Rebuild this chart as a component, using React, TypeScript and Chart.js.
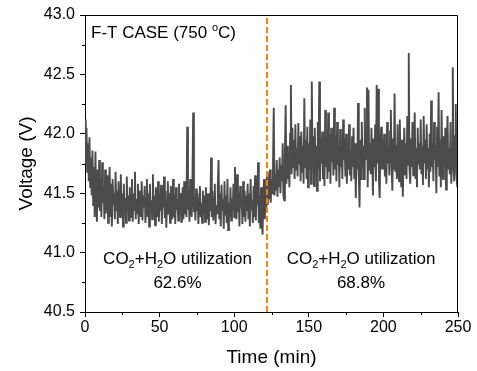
import React, { useEffect, useRef } from "react";
import { Chart, registerables } from "chart.js";

Chart.register(...registerables);

// ---- data ----
const X_MIN = 0;
const X_MAX = 250;
const Y_MIN = 40.5;
const Y_MAX = 43.0;
const X_TICKS = [0, 50, 100, 150, 200, 250];
const X_MINOR_TICKS = [25, 75, 125, 175, 225];
const Y_TICKS = [40.5, 41.0, 41.5, 42.0, 42.5, 43.0];
const Y_MINOR_TICKS = [40.75, 41.25, 41.75, 42.25, 42.75];
const TIME_STEP_MIN = 0.5;
const SWITCH_TIME_MIN = 122;

// Voltage (V), one reading every 0.5 min from t = 0 to 250 min (10 readings per row = 5 min)
const voltage = [
  42.12, 41.75, 42.05, 41.68, 41.92, 41.60, 41.97, 41.55, 41.80, 41.48,
  41.86, 41.40, 41.72, 41.30, 41.85, 41.45, 41.26, 41.70, 41.38, 41.78,
  41.35, 41.62, 41.30, 41.76, 41.42, 41.55, 41.28, 41.70, 41.33, 41.52,
  41.65, 41.25, 41.48, 41.72, 41.30, 41.58, 41.22, 41.62, 41.40, 41.50,
  41.28, 41.68, 41.35, 41.52, 41.24, 41.60, 41.45, 41.30, 41.66, 41.32,
  41.50, 41.22, 41.58, 41.38, 41.46, 41.25, 41.64, 41.35, 41.48, 41.27,
  41.55, 41.40, 41.30, 41.62, 41.26, 41.50, 41.36, 41.68, 41.28, 41.45,
  41.33, 41.58, 41.24, 41.52, 41.42, 41.30, 41.60, 41.27, 41.48, 41.38,
  41.56, 41.25, 41.45, 41.62, 41.30, 41.50, 41.22, 41.58, 41.36, 41.44,
  41.28, 41.66, 41.34, 41.48, 41.23, 41.55, 41.40, 41.30, 41.60, 41.26,
  41.50, 41.35, 41.57, 41.24, 41.46, 41.38, 41.64, 41.29, 41.52, 41.21,
  41.44, 41.60, 41.32, 41.50, 41.25, 41.56, 41.37, 41.28, 41.62, 41.30,
  41.48, 41.24, 41.55, 41.36, 41.45, 41.27, 41.58, 41.33, 41.50, 41.26,
  41.42, 41.55, 41.28, 41.60, 41.32, 41.48, 41.30, 42.06, 41.36, 41.52,
  41.26, 41.62, 41.38, 41.30, 41.58, 42.18, 41.34, 41.47, 41.27, 41.54,
  41.35, 41.50, 41.24, 41.45, 41.56, 41.30, 41.42, 41.25, 41.52, 41.33,
  41.48, 41.26, 41.55, 41.36, 41.28, 41.50, 41.23, 41.44, 41.35, 41.80,
  41.30, 41.52, 41.27, 41.46, 41.58, 41.24, 41.40, 41.33, 41.55, 41.78,
  41.28, 41.50, 41.22, 41.57, 41.35, 41.45, 41.20, 41.60, 41.32, 41.48,
  41.25, 41.62, 41.19, 41.42, 41.30, 41.55, 41.27, 41.46, 41.36, 41.58,
  41.30, 41.72, 41.40, 41.28, 41.66, 41.34, 41.50, 41.22, 41.56, 41.38,
  41.45, 41.24, 41.60, 41.30, 41.52, 41.26, 41.48, 41.35, 41.58, 41.28,
  41.50, 41.22, 41.62, 41.36, 41.44, 41.25, 41.56, 41.30, 41.65, 41.27,
  41.52, 41.40, 41.76, 41.25, 41.48, 41.20, 41.55, 41.30, 41.15, 41.45,
  41.62, 41.28, 41.52, 41.36, 41.68, 41.40, 41.55, 41.45, 41.70, 41.42,
  41.62, 41.50, 41.72, 42.22, 41.48, 41.66, 41.52, 41.78, 41.47, 41.70,
  41.55, 41.80, 41.50, 41.74, 41.60, 41.92, 41.48, 41.44, 41.85, 42.24,
  41.58, 41.90, 41.62, 41.82, 41.55, 42.00, 42.41, 41.66, 42.05, 41.72,
  41.95, 41.62, 42.08, 41.70, 41.88, 41.64, 42.09, 41.75, 41.98, 41.60,
  42.02, 41.68, 41.90, 41.58, 42.30, 41.72, 41.95, 41.62, 42.06, 41.55,
  41.92, 41.70, 42.12, 41.58, 42.44, 41.75, 41.98, 41.56, 42.05, 41.66,
  41.90, 41.52, 42.10, 41.70, 42.44, 41.60, 41.96, 41.75, 42.02, 41.62,
  41.88, 41.56, 42.20, 41.72, 41.95, 41.62, 42.18, 41.68, 42.00, 41.58,
  42.05, 41.76, 41.92, 41.65, 42.22, 41.70, 41.98, 41.60, 42.10, 41.74,
  41.90, 41.55, 42.04, 41.72, 41.88, 41.62, 42.12, 41.78, 41.96, 41.64,
  42.00, 41.58, 41.90, 41.70, 42.08, 41.65, 41.86, 41.60, 41.98, 41.72,
  42.05, 41.62, 41.92, 41.46, 41.85, 41.70, 42.26, 41.66, 41.38, 41.95,
  41.62, 42.10, 41.74, 41.90, 41.62, 42.22, 41.78, 41.98, 42.39, 41.55,
  42.37, 41.70, 41.92, 41.66, 42.05, 41.80, 41.48, 41.96, 41.72, 42.08,
  41.60, 42.41, 41.75, 42.38, 41.62, 41.46, 41.90, 42.06, 41.70, 41.95,
  41.70, 42.00, 41.64, 41.92, 41.58, 42.10, 41.75, 41.88, 41.65, 42.02,
  42.20, 41.72, 41.52, 41.96, 41.70, 42.34, 41.68, 41.90, 41.62, 42.08,
  41.75, 41.60, 42.12, 41.70, 41.55, 41.95, 41.47, 41.80, 42.05, 41.66,
  41.92, 41.62, 42.15, 41.74, 42.68, 41.70, 41.58, 41.96, 41.72, 42.10,
  41.65, 41.90, 42.18, 41.62, 41.88, 41.55, 42.05, 41.74, 41.92, 41.70,
  42.12, 41.66, 41.90, 41.57, 42.15, 41.75, 41.95, 41.62, 42.08, 41.70,
  41.88, 41.55, 42.00, 41.68, 42.28, 41.72, 41.92, 41.60, 42.10, 41.78,
  41.90, 41.50, 42.06, 41.72, 42.35, 41.64, 41.95, 41.55, 42.20, 41.70,
  41.62, 41.98, 41.75, 42.05, 41.53, 41.90, 42.15, 41.70, 41.88, 41.66,
  42.10, 41.58, 41.92, 42.56, 41.70, 41.60, 41.98, 42.25, 41.66, 41.55,
  41.85,
];

const PHASE_UTILIZATION = ["62.6%", "68.8%"];
const PHASE_CENTER_MIN = [62, 185];
const CASE_TITLE = "F-T CASE (750 ";

const FONT = "'Liberation Sans', Arial, Helvetica, sans-serif";

type Part = { text: string; size: number; dy: number };

function drawParts(ctx: CanvasRenderingContext2D, parts: Part[], x: number, y: number, align: "left" | "center") {
  let total = 0;
  const widths = parts.map((p) => {
    ctx.font = `${p.size}px ${FONT}`;
    const w = ctx.measureText(p.text).width;
    total += w;
    return w;
  });
  let cx = align === "center" ? x - total / 2 : x;
  ctx.textAlign = "left";
  ctx.textBaseline = "alphabetic";
  parts.forEach((p, i) => {
    ctx.font = `${p.size}px ${FONT}`;
    ctx.fillText(p.text, cx, y + p.dy);
    cx += widths[i];
  });
}

const decorPlugin = {
  id: "decor",
  afterDraw(chart: any) {
    const { ctx, chartArea: a, scales } = chart;
    const xs = scales.x;
    const ys = scales.y;
    ctx.save();
    ctx.strokeStyle = "#000";
    ctx.lineWidth = 1;
    // top & right frame
    ctx.beginPath();
    ctx.moveTo(Math.round(a.left) + 0.5, Math.round(a.top) + 0.5);
    ctx.lineTo(Math.round(a.right) - 0.5, Math.round(a.top) + 0.5);
    ctx.lineTo(Math.round(a.right) - 0.5, Math.round(a.bottom) + 0.5);
    ctx.stroke();
    // minor ticks
    ctx.beginPath();
    X_MINOR_TICKS.forEach((v) => {
      const px = Math.round(xs.getPixelForValue(v)) + 0.5;
      ctx.moveTo(px, a.bottom);
      ctx.lineTo(px, a.bottom + 3);
    });
    Y_MINOR_TICKS.forEach((v) => {
      const py = Math.round(ys.getPixelForValue(v)) + 0.5;
      ctx.moveTo(a.left, py);
      ctx.lineTo(a.left - 3, py);
    });
    ctx.stroke();

    ctx.fillStyle = "#000";
    // case title
    drawParts(
      ctx,
      [
        { text: CASE_TITLE, size: 17, dy: 0 },
        { text: "o", size: 11, dy: -7 },
        { text: "C)", size: 17, dy: 0 },
      ],
      a.left + 6,
      a.top + 23,
      "left"
    );
    // phase annotations
    PHASE_CENTER_MIN.forEach((t, i) => {
      const cx = xs.getPixelForValue(t);
      const y1 = ys.getPixelForValue(40.904);
      drawParts(
        ctx,
        [
          { text: "CO", size: 17, dy: 0 },
          { text: "2", size: 11, dy: 4 },
          { text: "+H", size: 17, dy: 0 },
          { text: "2", size: 11, dy: 4 },
          { text: "O utilization", size: 17, dy: 0 },
        ],
        cx,
        y1,
        "center"
      );
      drawParts(ctx, [{ text: PHASE_UTILIZATION[i], size: 17, dy: 0 }], cx, y1 + 24, "center");
    });
    // axis titles
    ctx.font = `19px ${FONT}`;
    ctx.textAlign = "center";
    ctx.textBaseline = "alphabetic";
    ctx.fillText("Time (min)", (a.left + a.right) / 2, 363);
    ctx.save();
    ctx.translate(32, (a.top + a.bottom) / 2);
    ctx.rotate(-Math.PI / 2);
    ctx.fillText("Voltage (V)", 0, 0);
    ctx.restore();
    ctx.restore();
  },
};

export default function App() {
  const ref = useRef<HTMLCanvasElement | null>(null);
  useEffect(() => {
    document.body.style.margin = "0";
    const canvas = ref.current!;
    const series = voltage.map((v, i) => ({ x: i * TIME_STEP_MIN, y: v }));
    const chart = new Chart(canvas, {
      type: "line",
      data: {
        datasets: [
          {
            data: [
              { x: SWITCH_TIME_MIN, y: Y_MIN },
              { x: SWITCH_TIME_MIN, y: Y_MAX },
            ],
            borderColor: "#ff8000",
            borderWidth: 2,
            borderDash: [6, 3],
            pointRadius: 0,
            order: 0,
          },
          {
            data: series,
            borderColor: "#4b4b4b",
            borderWidth: 1.9,
            pointRadius: 0,
            tension: 0,
            order: 1,
          },
        ],
      },
      options: {
        responsive: false,
        animation: false,
        events: [],
        layout: { padding: { top: 15, right: 19, left: 0, bottom: 0 } },
        plugins: { legend: { display: false }, tooltip: { enabled: false } },
        scales: {
          x: {
            type: "linear",
            min: X_MIN,
            max: X_MAX,
            afterBuildTicks: (s: any) => {
              s.ticks = X_TICKS.map((v) => ({ value: v }));
            },
            afterFit: (s: any) => {
              s.height = 59;
            },
            grid: { drawOnChartArea: false, drawTicks: true, tickLength: 5, tickColor: "#000" },
            border: { display: true, color: "#000", width: 1 },
            ticks: {
              color: "#000",
              padding: 1,
              maxRotation: 0,
              font: { family: FONT, size: 16 },
              callback: (v: any) => String(v),
            },
          },
          y: {
            type: "linear",
            min: Y_MIN,
            max: Y_MAX,
            afterBuildTicks: (s: any) => {
              s.ticks = Y_TICKS.map((v) => ({ value: v }));
            },
            afterFit: (s: any) => {
              s.width = 85;
            },
            grid: { drawOnChartArea: false, drawTicks: true, tickLength: 5, tickColor: "#000" },
            border: { display: true, color: "#000", width: 1 },
            ticks: {
              color: "#000",
              padding: 5,
              font: { family: FONT, size: 16 },
              callback: (v: any) => Number(v).toFixed(1),
            },
          },
        },
      },
      plugins: [decorPlugin],
    });
    return () => chart.destroy();
  }, []);
  return <canvas ref={ref} width={477} height={371} style={{ display: "block" }} />;
}
